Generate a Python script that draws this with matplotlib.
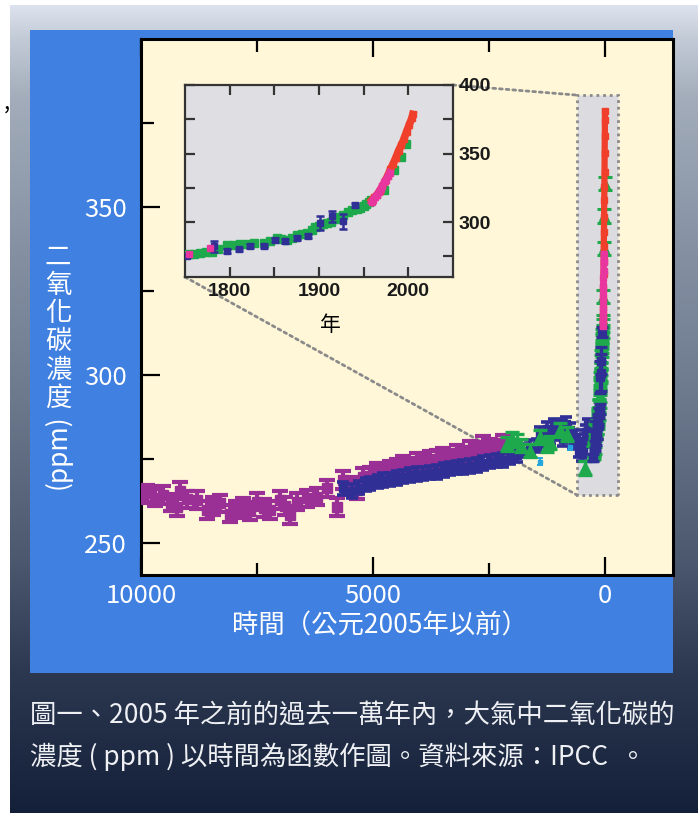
import numpy as np
import matplotlib
matplotlib.use("Agg")
import matplotlib.pyplot as plt
from matplotlib.colors import to_rgb
from matplotlib.patches import Rectangle, ConnectionPatch

W, H = 698, 813
CJK = ["Noto Sans CJK TC", "DejaVu Sans"]
plt.rcParams["font.family"] = CJK

# Holocene ice-core records, years before 2005 and ppm
PURPLE_BP = [9950, 9877, 9700, 9519, 9350, 9231, 9159, 9000, 8800, 8585, 8450, 8297,
             8082, 7950, 7795, 7650, 7507, 7350, 7220, 7004, 6900, 6789, 6645, 6430,
             6214, 5999, 5783, 5639, 5500, 5352, 5208, 5065, 4921, 4778, 4634, 4490,
             4346, 4200, 4059, 3915, 3772, 3628, 3484, 3341, 3197, 3053, 2909, 2766,
             2622, 2478, 2334, 2190, 2050]
PURPLE_PPM = [264.5, 264.8, 263.5, 264.3, 262.0, 260.8, 265.6, 263.0, 262.8, 259.8, 261.0,
              261.8, 258.8, 260.0, 260.8, 259.5, 262.3, 260.5, 259.8, 262.8, 261.0, 258.3,
              262.3, 263.3, 263.8, 266.3, 260.8, 268.8, 267.0, 265.8, 269.7, 270.0, 271.2,
              270.5, 271.7, 272.5, 273.2, 272.8, 274.2, 273.5, 274.7, 275.0, 275.7, 275.2,
              276.7, 276.0, 277.7, 277.0, 279.2, 278.5, 278.2, 279.7, 278.0]

BLUE_BP = [5639, 5450, 5300, 5150, 5065, 4900, 4778, 4640, 4490, 4350, 4203, 4050, 3915,
           3770, 3628, 3480, 3341, 3200, 3053, 2900, 2766, 2620, 2478, 2330, 2190, 2050,
           1903, 1760, 1616, 1470, 1400, 1329, 1250, 1185, 1100, 1041, 960, 900, 830, 754,
           690, 620, 560, 500, 474, 430, 400, 360, 330]
BLUE_PPM = [266.3, 265.5, 266.5, 267.5, 267.8, 268.3, 268.8, 269.0, 269.3, 269.8, 270.2,
            270.5, 270.7, 271.0, 271.2, 271.8, 272.2, 272.5, 272.7, 273.0, 273.2, 273.8,
            274.2, 274.5, 274.7, 275.5, 276.2, 277.5, 278.7, 279.0, 282.5, 280.7, 284.0,
            281.5, 285.0, 282.7, 284.5, 281.0, 285.5, 283.6, 280.0, 281.5, 277.5, 276.5,
            278.0, 280.5, 283.0, 285.0, 284.0]

GREEN_BP = [2110, 2000, 1900, 1800, 1616, 1400, 1250, 1185, 970, 820, 432]
GREEN_PPM = [279.5, 281.0, 280.5, 279.0, 277.5, 281.5, 279.0, 280.0, 283.6, 282.5, 272.3]

CYAN_BP = [1400, 754]
CYAN_PPM = [274.2, 278.7]

# industrial era, calendar year AD and ppm (inset and the spike at 0)
GREEN_AD = [1754, 1760, 1767, 1773, 1780, 1787, 1797, 1805, 1812, 1820, 1827, 1838, 1845,
            1853, 1858, 1864, 1870, 1875, 1881, 1887, 1892, 1896, 1900, 1905, 1909, 1913,
            1918, 1922, 1927, 1932, 1937, 1943, 1946, 1950, 1953, 1956, 1958, 1973, 1984,
            1992, 1997]
GREEN_AD_PPM = [276.8, 277.0, 277.8, 278.0, 278.5, 280.5, 283.3, 283.0, 284.0, 284.3, 284.5,
                284.5, 286.0, 288.1, 287.5, 286.9, 288.5, 290.5, 291.0, 292.2, 294.0, 296.6,
                297.5, 299.0, 299.5, 300.2, 302.0, 303.9, 305.5, 307.5, 308.5, 309.9, 310.5,
                311.6, 313.0, 314.8, 316.0, 323.3, 337.7, 347.3, 357.0]

BLUE_AD = [1752, 1782, 1797, 1810, 1823, 1838, 1851, 1862, 1875, 1888, 1901, 1914, 1927, 1940]
BLUE_AD_PPM = [275.4, 282.4, 278.9, 280.1, 282.5, 282.5, 286.9, 286.1, 288.6, 289.8, 299.4,
               304.3, 300.7, 312.8]
BLUE_AD_ERR = [1.0, 4.0, 1.5, 1.0, 1.5, 1.5, 1.5, 1.5, 1.5, 1.5, 4.8, 4.0, 5.5, 1.5]

PINK_AD = [1755, 1778, 1959, 1961, 1963, 1965, 1967, 1969, 1971, 1973, 1975, 1977, 1979]
PINK_AD_PPM = [276.9, 281.3, 314.5, 316.5, 318.0, 320.0, 322.0, 324.5, 326.5, 329.0, 331.0,
               333.5, 336.0]

RED_AD = [1959, 1962, 1965, 1968, 1971, 1974, 1977, 1980, 1983, 1986, 1989, 1992, 1995,
          1998, 2001, 2004, 2005]
RED_AD_PPM = [316.0, 318.0, 320.0, 323.0, 326.0, 330.0, 334.0, 338.5, 342.5, 347.0, 352.0,
              356.0, 360.5, 366.0, 371.0, 376.0, 378.5]

MAIN_XTICKS = [10000, 5000, 0]
MAIN_XMINOR = [7500, 2500]
MAIN_YTICKS = [250, 300, 350]
MAIN_YMINOR = [275, 325, 375]
INSET_XTICKS = [1800, 1900, 2000]
INSET_XMINOR = [1850, 1950]
INSET_YTICKS = [300, 350, 400]
INSET_YMINOR = [275, 325, 375]

PURPLE, BLUE, GREEN, CYAN = "#9A2F96", "#2F2F96", "#1EAA4C", "#27A6DE"
RED, PINK = "#F0402C", "#E8369E"


def fx(px):
    return px / W


def fy(py):
    return 1 - py / H


def bars(ax, x, y, err, color, marker="s", ms=5, cap=4, lw=2.2, z=3):
    ax.errorbar(x, y, yerr=err, fmt=marker, ms=ms, color=color, mec=color, ecolor=color,
                capsize=cap, elinewidth=lw, capthick=lw, zorder=z)


fig = plt.figure(figsize=(W / 100, H / 100), dpi=100, facecolor="white")

# slide background: vertical gradient plus blue panel
bg = fig.add_axes([0, 0, 1, 1], zorder=-10)
bg.set_xlim(0, W)
bg.set_ylim(H, 0)
bg.axis("off")
stops = [(6, "#DDE3EE"), (40, "#C2CAD6"), (100, "#A2ACBA"), (250, "#8591A3"),
         (400, "#6C788C"), (560, "#4C586E"), (673, "#2C3850"), (813, "#142039")]
rows = np.arange(6, H)
grad = np.stack([np.interp(rows, [s[0] for s in stops], [to_rgb(s[1])[k] for s in stops])
                 for k in range(3)], axis=-1)
bg.imshow(grad[:, None, :], extent=(10, W, H, 6), aspect="auto", interpolation="bilinear")
bg.add_patch(Rectangle((30, 30), 643, 643, facecolor="#4080E0", edgecolor="none"))
bg.text(4, 103, ",", fontsize=16, color="black", ha="left", va="center")

# main axes
ax = fig.add_axes([fx(141), fy(575), fx(673) - fx(141), fy(39) - fy(575)])
ax.set_facecolor("#FFF7D8")
ax.set_xlim(10000, -1466)
ax.set_ylim(240.5, 400)
for side in ["top", "bottom", "left", "right"]:
    ax.spines[side].set_linewidth(2.2)
    ax.spines[side].set_color("black")
ax.set_xticks(MAIN_XTICKS)
ax.set_xticks(MAIN_XMINOR, minor=True)
ax.set_yticks(MAIN_YTICKS)
ax.set_yticks(MAIN_YMINOR, minor=True)
ax.tick_params(which="both", direction="in", top=True, bottom=True, left=True, right=False,
               width=1.6, colors="black", labelcolor="white", labelsize=18.5)
ax.tick_params(axis="x", which="major", length=13, pad=6)
ax.tick_params(axis="x", which="minor", length=9)
ax.tick_params(axis="y", which="major", length=14, pad=10)
ax.tick_params(axis="y", which="minor", length=9)

bars(ax, PURPLE_BP, PURPLE_PPM, 2.6, PURPLE, ms=7, cap=5.5, lw=3, z=3)
bars(ax, BLUE_BP, BLUE_PPM, 2.0, BLUE, ms=6, cap=4.5, lw=2.6, z=4)
bars(ax, CYAN_BP, CYAN_PPM, 1.0, CYAN, ms=3.5, cap=2, lw=1.4, z=4)
bars(ax, GREEN_BP, GREEN_PPM, 2.0, GREEN, marker="^", ms=8, cap=5, lw=2.4, z=5)

to_bp = lambda ad: 2005 - np.asarray(ad)
bars(ax, to_bp(GREEN_AD), GREEN_AD_PPM, 2.0, GREEN, marker="^", ms=7, cap=5, lw=2.2, z=5)
bars(ax, to_bp(BLUE_AD), BLUE_AD_PPM, BLUE_AD_ERR, BLUE, ms=6, cap=4.5, lw=2.4, z=6)
ax.plot(to_bp(RED_AD), RED_AD_PPM, color=RED, lw=4.5, marker="s", ms=4, zorder=7)
ax.plot(to_bp(PINK_AD[2:]), PINK_AD_PPM[2:], color=PINK, lw=4.5, marker="s", ms=4, zorder=8)

ax.set_xlabel("時間（公元2005年以前）", fontsize=19, color="white", va="center")
ax.xaxis.set_label_coords((380 - 141) / 532, -(626 - 575) / 536)

# zoom box around the last few centuries
ax.add_patch(Rectangle((-280, 264.3), 883, 119, facecolor="#DCDCE0", edgecolor="#8A8A8A",
                       lw=2, ls=(0, (1, 1.4)), zorder=2))

for i, ch in enumerate("二氧化碳濃度"):
    fig.text(fx(58), fy(257 + 28.3 * i), ch, fontsize=19, color="white",
             ha="center", va="center")
fig.text(fx(58), fy(452), "(ppm)", fontsize=19, color="white", rotation=90,
         ha="center", va="center")

# inset
ax_in = fig.add_axes([fx(185), fy(277), fx(453) - fx(185), fy(85) - fy(277)], zorder=2)
ax_in.set_facecolor("#DFDFE3")
ax_in.set_xlim(1750, 2050)
ax_in.set_ylim(260, 400)
for side in ["top", "bottom", "left", "right"]:
    ax_in.spines[side].set_linewidth(1.6)
    ax_in.spines[side].set_color("#333333")
ax_in.set_xticks(INSET_XTICKS)
ax_in.set_xticks(INSET_XMINOR, minor=True)
ax_in.set_yticks(INSET_YTICKS)
ax_in.set_yticks(INSET_YMINOR, minor=True)
ax_in.tick_params(which="both", direction="in", top=True, bottom=True, left=True, right=True,
                  labelleft=False, labelright=True, length=7, width=1.6, colors="#333333",
                  labelcolor="#1A1A1A", labelsize=14, pad=4)
for lab in ax_in.get_xticklabels() + ax_in.get_yticklabels():
    lab.set_fontfamily("Liberation Sans")
    lab.set_fontweight("bold")

bars(ax_in, GREEN_AD, GREEN_AD_PPM, 1.4, GREEN, ms=5.5, cap=2.5, lw=1.8, z=3)
bars(ax_in, BLUE_AD, BLUE_AD_PPM, BLUE_AD_ERR, BLUE, ms=5, cap=3, lw=1.8, z=4)
ax_in.plot(RED_AD, RED_AD_PPM, color=RED, lw=5.5, marker="s", ms=5, zorder=5)
bars(ax_in, PINK_AD[:2], PINK_AD_PPM[:2], 1.5, PINK, ms=4, cap=2.5, lw=1.4, z=5)
ax_in.plot(PINK_AD[2:], PINK_AD_PPM[2:], color=PINK, lw=5, marker="s", ms=4.5, zorder=6)

ax_in.set_xlabel("年", fontsize=15, color="black", va="center")
ax_in.xaxis.set_label_coords((330 - 185) / 268, -(325 - 277) / 192)

for corner, target in [((1, 1), (603, 383.3)), ((0, 0), (603, 264.3))]:
    ax.add_artist(ConnectionPatch(xyA=corner, coordsA=ax_in.transAxes, xyB=target,
                                  coordsB=ax.transData, color="#8A8A8A", lw=2,
                                  ls=(0, (1, 1.4)), zorder=1.5))

# caption
fig.text(fx(30), fy(715), "圖一、2005 年之前的過去一萬年內，大氣中二氧化碳的",
         fontsize=19, color="#EEF0F4", ha="left", va="center")
fig.text(fx(30), fy(757), "濃度 ( ppm ) 以時間為函數作圖。資料來源：IPCC  。",
         fontsize=19, color="#EEF0F4", ha="left", va="center")

fig.savefig("out.png", dpi=100)
